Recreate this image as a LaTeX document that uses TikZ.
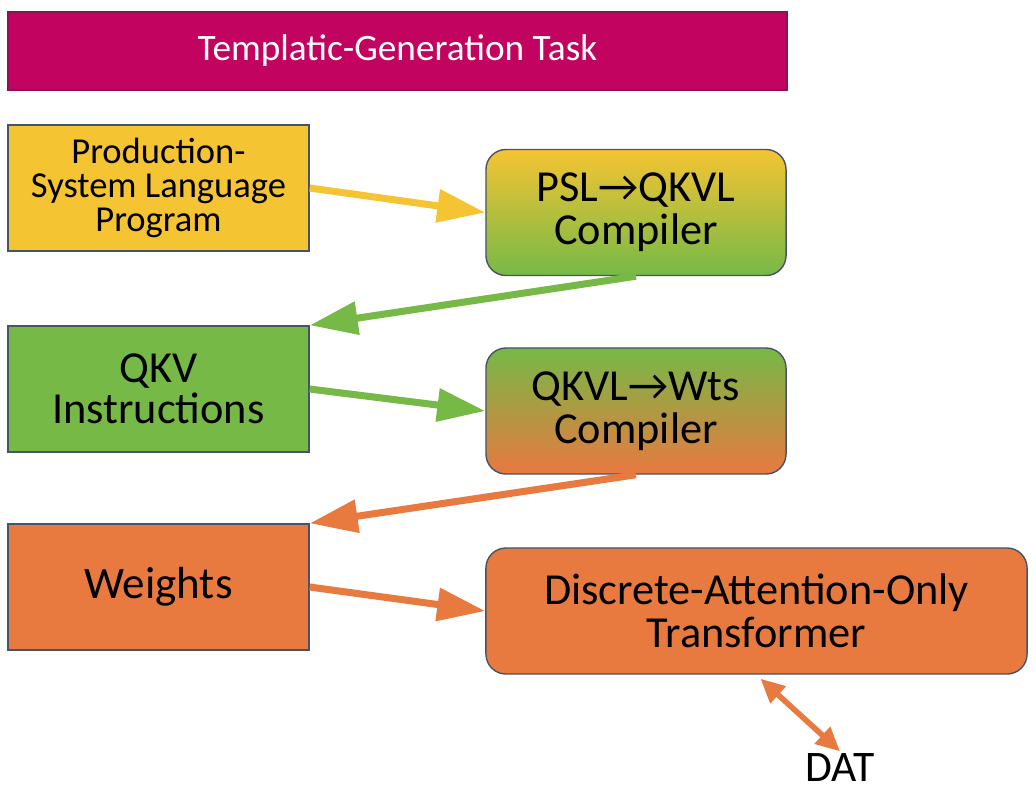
\documentclass[tikz,border=0pt]{standalone}
\usepackage{fontspec}
\setmainfont{Carlito}
\usepackage{tikz}
\usetikzlibrary{arrows.meta, positioning, calc}
\definecolor{magentaTarea}{HTML}{C2035F}
\definecolor{bordeTarea}{HTML}{8E1150}
\definecolor{amarilloPSL}{HTML}{F5C433}
\definecolor{verdeQKV}{HTML}{76B947}
\definecolor{naranjaPesos}{HTML}{E8793F}
\definecolor{bordeCaja}{HTML}{46546A}

\begin{document}
\begin{tikzpicture}[
        x=0.025cm, y=-0.025cm,
        tarea/.style={draw=bordeTarea, fill=magentaTarea, line width=1pt,
            minimum width=19.475cm, minimum height=1.95cm, text=white,
            font=\fontsize{26.5}{30}\selectfont},
        caja/.style={draw=bordeCaja, line width=1pt, align=center,
            minimum width=7.525cm, minimum height=3.15cm},
        comp/.style={caja, rounded corners=0.5cm, minimum width=7.5cm,
            font=\fontsize{31.5}{30.5}\selectfont},
        flecha/.style={line width=5pt, -{Triangle[length=1.2cm, width=0.8cm]}},
        dobleflecha/.style={line width=4pt, {Triangle[length=0.6cm, width=0.55cm]}-{Triangle[length=0.6cm, width=0.55cm]}}
    ]
        \useasboundingbox (0,0) rectangle (1036,804);

        \node[tarea] (task) at (397.5,51) {Templatic-Generation Task};
        \node[caja, fill=amarilloPSL, font=\fontsize{26}{24}\selectfont] (psl) at (158.5,188)
            {Production-\\System Language\\Program};
        \node[comp, top color=amarilloPSL, bottom color=verdeQKV] (pslc) at (636,212.5)
            {PSL\textrightarrow QKVL\\Compiler};
        \node[caja, fill=verdeQKV, font=\fontsize{31.5}{29.5}\selectfont] (qkv) at (158.5,389)
            {QKV\\Instructions};
        \node[comp, top color=verdeQKV, bottom color=naranjaPesos] (qkvc) at (636,411)
            {QKVL\textrightarrow Wts\\Compiler};
        \node[caja, fill=naranjaPesos, font=\fontsize{32}{31}\selectfont] (wts) at (158.5,587) {Weights};
        \node[comp, fill=naranjaPesos, minimum width=13.525cm] (daot) at (756.5,611)
            {Discrete-Attention-Only\\Transformer};
        \node[font=\fontsize{31}{34}\selectfont, inner sep=1pt] (dat) at (840,767) {DAT};

        \draw[flecha, amarilloPSL] (psl.east) -- (pslc.west);
        \draw[flecha, verdeQKV] (pslc.south) -- (qkv.north east);
        \draw[flecha, verdeQKV] (qkv.east) -- (qkvc.west);
        \draw[flecha, naranjaPesos] (qkvc.south) -- (wts.north east);
        \draw[flecha, naranjaPesos] (wts.east) -- (daot.west);
        \draw[dobleflecha, naranjaPesos] ($(daot.south)+(4,4)$) -- (dat.north);
    \end{tikzpicture}
\end{document}
